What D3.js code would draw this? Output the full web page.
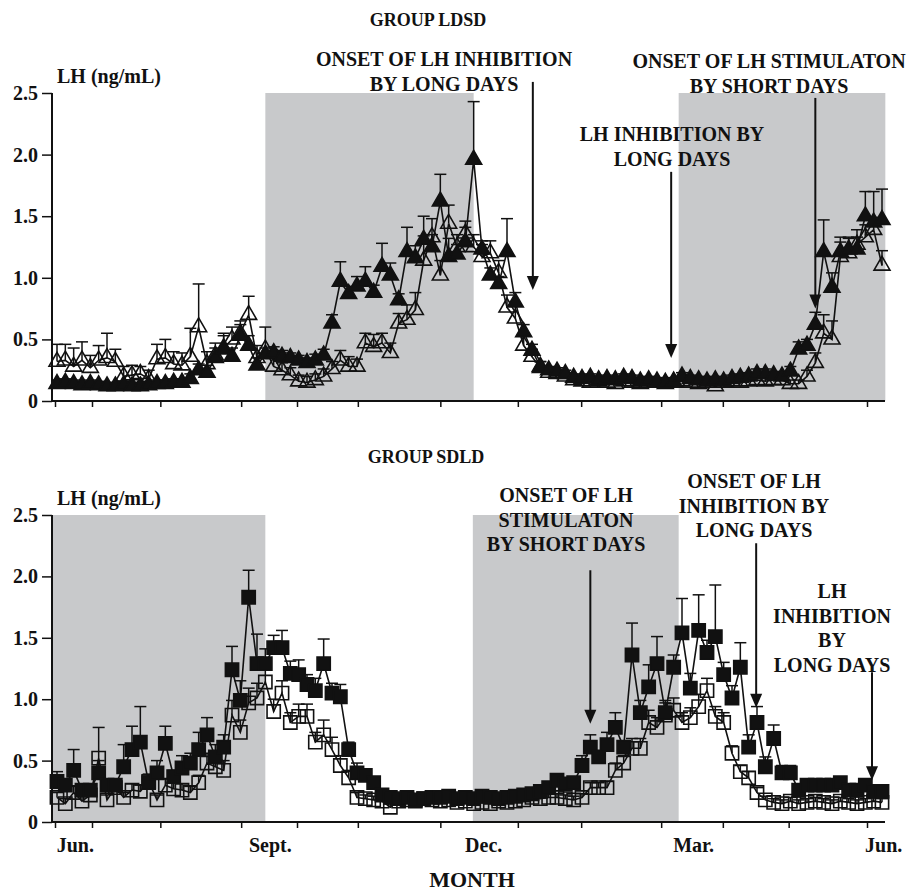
<!DOCTYPE html>
<html>
<head>
<meta charset="utf-8">
<script src="https://cdn.jsdelivr.net/npm/d3@7"></script>
<style>
  body { margin: 0; background: #fff; }
  svg text { font-family: "Liberation Serif", "Times New Roman", serif; font-weight: bold; fill: #111; }
</style>
</head>
<body>
<div class="chart"></div>
<script>
// sample index 0..99 runs from early June to early June of the next year
const ldsdFilled = [
  0.14,0.15,0.14,0.13,0.14,0.13,0.12,0.12,0.13,0.12,
  0.12,0.13,0.14,0.14,0.15,0.15,0.18,0.25,0.23,0.35,
  0.42,0.36,0.53,0.45,0.29,0.38,0.39,0.36,0.35,0.33,
  0.31,0.33,0.37,0.63,0.97,0.87,0.93,0.97,0.88,1.09,
  1.02,0.82,1.21,1.16,1.31,1.25,1.62,1.17,1.19,1.29,
  1.96,1.23,1.02,0.95,1.21,0.80,0.56,0.41,0.28,0.25,
  0.24,0.22,0.19,0.18,0.19,0.17,0.18,0.17,0.19,0.18,
  0.16,0.17,0.16,0.15,0.16,0.20,0.18,0.17,0.16,0.17,
  0.16,0.18,0.19,0.20,0.22,0.22,0.21,0.20,0.24,0.42,
  0.45,0.62,1.21,0.92,1.21,1.23,1.23,1.50,1.45,1.47]
const ldsdFilledErr = [
  0.03,0.03,0.03,0.03,0.03,0.03,0.03,0.03,0.03,0.03,
  0.03,0.03,0.03,0.03,0.03,0.03,0.04,0.05,0.06,0.08,
  0.11,0.07,0.09,0.08,0.06,0.05,0.05,0.05,0.04,0.04,
  0.04,0.05,0.05,0.07,0.16,0.06,0.08,0.12,0.06,0.19,
  0.10,0.05,0.20,0.10,0.19,0.10,0.22,0.15,0.08,0.12,
  0.47,0.07,0.06,0.06,0.27,0.08,0.06,0.05,0.04,0.03,
  0.03,0.03,0.03,0.03,0.03,0.03,0.03,0.03,0.03,0.03,
  0.03,0.03,0.03,0.03,0.03,0.03,0.03,0.03,0.03,0.03,
  0.03,0.03,0.03,0.03,0.04,0.04,0.03,0.03,0.04,0.06,
  0.05,0.10,0.26,0.12,0.12,0.10,0.10,0.20,0.25,0.25]
const ldsdOpen = [
  0.32,0.33,0.28,0.33,0.27,0.33,0.35,0.32,0.20,0.21,
  0.22,0.18,0.34,0.35,0.30,0.29,0.36,0.60,0.30,0.37,
  0.43,0.50,0.55,0.70,0.35,0.42,0.28,0.25,0.21,0.16,
  0.15,0.17,0.20,0.26,0.33,0.28,0.28,0.47,0.44,0.47,
  0.39,0.63,0.66,0.74,1.14,1.33,1.02,1.44,1.25,1.36,
  1.25,1.17,1.20,1.04,0.76,0.67,0.45,0.36,0.27,0.23,
  0.22,0.20,0.17,0.16,0.15,0.16,0.15,0.14,0.16,0.15,
  0.14,0.15,0.15,0.14,0.15,0.16,0.15,0.14,0.15,0.12,
  0.15,0.16,0.15,0.16,0.17,0.16,0.17,0.17,0.14,0.14,
  0.20,0.31,0.55,0.50,1.17,1.20,1.27,1.33,1.39,1.10]
const ldsdOpenErr = [
  0.14,0.13,0.15,0.15,0.10,0.12,0.20,0.10,0.08,0.08,
  0.06,0.07,0.12,0.15,0.10,0.10,0.23,0.35,0.10,0.10,
  0.12,0.10,0.10,0.15,0.10,0.18,0.12,0.06,0.06,0.05,
  0.05,0.05,0.06,0.06,0.08,0.08,0.06,0.08,0.10,0.08,
  0.08,0.08,0.12,0.14,0.20,0.15,0.12,0.15,0.10,0.10,
  0.10,0.10,0.10,0.10,0.10,0.10,0.08,0.06,0.05,0.03,
  0.03,0.03,0.03,0.03,0.03,0.03,0.03,0.03,0.03,0.03,
  0.03,0.03,0.03,0.03,0.03,0.03,0.03,0.03,0.03,0.03,
  0.03,0.03,0.03,0.03,0.03,0.03,0.03,0.03,0.03,0.03,
  0.05,0.08,0.15,0.15,0.12,0.12,0.12,0.10,0.10,0.12]

const sdldFilled = [
  0.33,0.30,0.42,0.26,0.26,0.40,0.30,0.30,0.45,0.59,
  0.65,0.32,0.40,0.64,0.37,0.44,0.48,0.59,0.71,0.53,
  0.61,1.24,0.99,1.83,1.29,1.29,1.42,1.42,1.21,1.20,
  1.12,1.07,1.29,1.05,1.02,0.59,0.40,0.38,0.32,0.22,
  0.20,0.19,0.20,0.18,0.19,0.20,0.20,0.21,0.19,0.20,
  0.19,0.21,0.20,0.19,0.20,0.21,0.22,0.23,0.25,0.28,
  0.34,0.31,0.32,0.46,0.61,0.53,0.63,0.77,0.61,1.36,
  0.89,1.10,1.29,0.89,1.26,1.54,1.09,1.56,1.38,1.51,
  1.20,1.01,1.26,0.61,0.81,0.45,0.68,0.40,0.40,0.26,
  0.30,0.30,0.30,0.30,0.32,0.26,0.26,0.30,0.25,0.25]
const sdldFilledErr = [
  0.08,0.05,0.17,0.05,0.05,0.10,0.05,0.05,0.18,0.19,
  0.29,0.05,0.10,0.14,0.05,0.10,0.08,0.14,0.14,0.10,
  0.10,0.19,0.16,0.22,0.24,0.12,0.10,0.14,0.10,0.12,
  0.08,0.10,0.20,0.08,0.10,0.06,0.08,0.05,0.03,0.02,
  0.02,0.02,0.02,0.02,0.02,0.02,0.02,0.02,0.02,0.02,
  0.02,0.02,0.02,0.02,0.02,0.02,0.02,0.02,0.03,0.03,
  0.04,0.04,0.04,0.08,0.10,0.05,0.10,0.12,0.05,0.26,
  0.10,0.18,0.22,0.10,0.10,0.28,0.12,0.29,0.10,0.42,
  0.10,0.10,0.20,0.10,0.13,0.08,0.11,0.06,0.06,0.03,
  0.03,0.03,0.03,0.03,0.03,0.03,0.03,0.03,0.03,0.03]
const sdldOpen = [
  0.20,0.15,0.24,0.17,0.22,0.52,0.18,0.28,0.20,0.26,
  0.25,0.33,0.18,0.30,0.27,0.26,0.24,0.32,0.48,0.45,
  0.42,0.87,0.73,0.97,1.01,1.14,0.90,1.05,0.81,0.86,
  0.86,0.65,0.71,0.59,0.46,0.36,0.20,0.19,0.18,0.17,
  0.12,0.17,0.18,0.17,0.19,0.18,0.17,0.18,0.16,0.17,
  0.15,0.16,0.15,0.17,0.16,0.17,0.18,0.20,0.19,0.20,
  0.20,0.19,0.18,0.20,0.28,0.28,0.28,0.42,0.48,0.60,
  0.60,0.81,0.77,0.87,0.91,0.81,0.85,0.94,1.07,0.86,
  0.81,0.56,0.41,0.36,0.24,0.18,0.16,0.15,0.17,0.15,
  0.16,0.17,0.16,0.15,0.17,0.16,0.15,0.16,0.17,0.16]
const sdldOpenErr = [
  0.04,0.04,0.05,0.04,0.05,0.25,0.04,0.06,0.04,0.05,
  0.05,0.06,0.04,0.05,0.05,0.05,0.05,0.06,0.08,0.08,
  0.08,0.12,0.10,0.12,0.12,0.12,0.10,0.10,0.08,0.10,
  0.10,0.08,0.12,0.10,0.08,0.06,0.04,0.03,0.03,0.03,
  0.03,0.03,0.03,0.03,0.03,0.03,0.03,0.03,0.03,0.03,
  0.03,0.03,0.03,0.03,0.03,0.03,0.03,0.03,0.03,0.03,
  0.03,0.03,0.03,0.03,0.04,0.04,0.05,0.06,0.06,0.08,
  0.08,0.10,0.08,0.10,0.10,0.08,0.08,0.10,0.10,0.08,
  0.08,0.06,0.05,0.05,0.04,0.03,0.03,0.03,0.03,0.03,
  0.03,0.03,0.03,0.03,0.03,0.03,0.03,0.03,0.03,0.03]

// x axis (in sample-index units)
const tickPos = [-0.24, 4.2, 12.4, 22.1, 28.8, 36.1, 46, 55.3, 62.9, 72.5, 79.9, 87.8, 97.2]
const monthNames = ["Jun.", "Sept.", "Dec.", "Mar.", "Jun."]
const monthPos = [2.2, 25.6, 51.2, 76.4, 99.2]
const yTicks = [0, 0.5, 1.0, 1.5, 2.0, 2.5]

const ldsdShade = [[25, 50], [74.6, 99.4]]
const sdldShade = [[-0.6, 25], [49.9, 74.6]]

// annotations: text lines + arrow [index, top value, tip value]
const ldsdNotes = [
  { lines: ["ONSET OF LH INHIBITION", "BY LONG DAYS"], x: 444, y: 66, arrow: [57.1, 2.59, 0.9] },
  { lines: ["ONSET OF LH STIMULATON", "BY SHORT DAYS"], x: 769, y: 68, arrow: [91, 2.46, 0.75] },
  { lines: ["LH INHIBITION BY", "LONG DAYS"], x: 672, y: 141, arrow: [73.7, 1.86, 0.35] }
]
const sdldNotes = [
  { lines: ["ONSET OF LH", "STIMULATON", "BY SHORT DAYS"], x: 566, y: 502, arrow: [64, 2.05, 0.8] },
  { lines: ["ONSET OF LH", "INHIBITION BY", "LONG DAYS"], x: 754, y: 488, arrow: [83.9, 2.27, 0.93] },
  { lines: ["LH", "INHIBITION", "BY", "LONG DAYS"], x: 832, y: 598, arrow: [97.8, 1.22, 0.34] }
]

const W = 911, H = 892

const svg = d3.select(".chart").append("svg")
  .attr("width", W)
  .attr("height", H)

const x = d3.scaleLinear().domain([0, 99]).range([57, 882])

function drawPanel(p) {
  const y = d3.scaleLinear().domain([0, 2.5]).range([p.bottom, p.top])
  const g = svg.append("g")

  // shaded photoperiod blocks
  g.selectAll(".shade")
    .data(p.shade)
    .enter().append("rect")
    .attr("x", d => x(d[0]))
    .attr("y", y(2.5))
    .attr("width", d => x(d[1]) - x(d[0]))
    .attr("height", y(0) - y(2.5))
    .style("fill", "#c8c9cb")

  // axes
  const yAxis = g.append("g")
    .attr("transform", "translate(52,0)")
    .call(d3.axisLeft(y).tickValues(yTicks).tickSize(10).tickPadding(4)
      .tickFormat(d => d === 0 ? "0" : d3.format(".1f")(d)))
  const xAxis = g.append("g")
    .attr("transform", "translate(0," + y(0) + ")")
    .call(d3.axisBottom(x).tickValues(tickPos).tickSize(6).tickFormat(""))
  xAxis.select(".domain").attr("d", "M52,0H885")
  yAxis.select(".domain").attr("d", "M0," + y(0) + "V" + y(2.5))
  g.selectAll(".domain").style("stroke", "#111").style("stroke-width", 2)
  g.selectAll(".tick line").style("stroke", "#111").style("stroke-width", 1.5)
  yAxis.selectAll("text").style("font-size", "20px").style("font-family", null).attr("fill", "#111")

  g.append("text")
    .attr("x", 57).attr("y", p.top - 10)
    .style("font-size", "20px")
    .text("LH (ng/mL)")

  g.append("text")
    .attr("x", p.titleX).attr("y", p.titleY)
    .style("text-anchor", "middle")
    .style("font-size", "18px")
    .text(p.title)

  const line = d3.line().x((d, i) => x(i)).y(d => y(d))

  p.series.forEach(s => {
    const sg = g.append("g")
    sg.append("path")
      .datum(s.values)
      .attr("d", line)
      .style("fill", "none")
      .style("stroke", "#111")
      .style("stroke-width", 1.6)

    const eb = sg.selectAll(".err")
      .data(s.values)
      .enter().append("g")
    eb.append("line")
      .attr("x1", (d, i) => x(i)).attr("x2", (d, i) => x(i))
      .attr("y1", d => y(d)).attr("y2", (d, i) => y(d + s.err[i]))
    eb.append("line")
      .attr("x1", (d, i) => x(i) - 6).attr("x2", (d, i) => x(i) + 6)
      .attr("y1", (d, i) => y(d + s.err[i])).attr("y2", (d, i) => y(d + s.err[i]))
    eb.selectAll("line").style("stroke", "#111").style("stroke-width", 1.5)

    sg.selectAll(".mark")
      .data(s.values)
      .enter().append("path")
      .attr("d", d3.symbol(s.shape, s.size))
      .attr("transform", (d, i) => "translate(" + x(i) + "," + y(d) + ")")
      .style("fill", s.filled ? "#111" : "none")
      .style("stroke", "#111")
      .style("stroke-width", 1.6)
  })

  // annotations with arrows
  p.notes.forEach(n => {
    n.lines.forEach((t, k) => {
      g.append("text")
        .attr("x", n.x).attr("y", n.y + k * 24.5)
        .style("text-anchor", "middle")
        .style("font-size", "20px")
        .text(t)
    })
    const ax = x(n.arrow[0]), y1 = y(n.arrow[1]), y2 = y(n.arrow[2])
    g.append("line")
      .attr("x1", ax).attr("x2", ax).attr("y1", y1).attr("y2", y2 - 12)
      .style("stroke", "#111").style("stroke-width", 2)
    g.append("path")
      .attr("d", "M" + (ax - 6) + "," + (y2 - 14) + "L" + (ax + 6) + "," + (y2 - 14) + "L" + ax + "," + y2 + "Z")
      .style("fill", "#111")
  })
}

drawPanel({
  top: 93, bottom: 401, title: "GROUP LDSD", titleX: 428, titleY: 26,
  shade: ldsdShade, notes: ldsdNotes,
  series: [
    { values: ldsdOpen, err: ldsdOpenErr, shape: d3.symbolTriangle, size: 110, filled: false },
    { values: ldsdFilled, err: ldsdFilledErr, shape: d3.symbolTriangle, size: 110, filled: true }
  ]
})

drawPanel({
  top: 515, bottom: 822, title: "GROUP SDLD", titleX: 426, titleY: 463,
  shade: sdldShade, notes: sdldNotes,
  series: [
    { values: sdldOpen, err: sdldOpenErr, shape: d3.symbolSquare, size: 175, filled: false },
    { values: sdldFilled, err: sdldFilledErr, shape: d3.symbolSquare, size: 175, filled: true }
  ]
})

// month labels under the lower panel
svg.selectAll(".month")
  .data(monthNames)
  .enter().append("text")
  .attr("x", (d, i) => x(monthPos[i]))
  .attr("y", 852)
  .style("text-anchor", "middle")
  .style("font-size", "20px")
  .text(d => d)

svg.append("text")
  .attr("x", 472).attr("y", 887)
  .style("text-anchor", "middle")
  .style("font-size", "22px")
  .text("MONTH")
</script>
</body>
</html>
